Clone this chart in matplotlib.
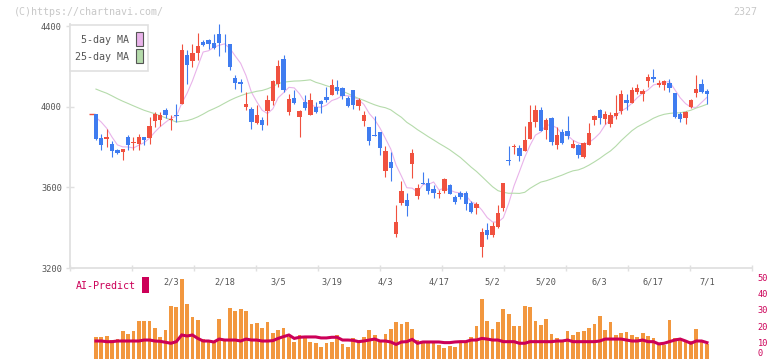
import numpy as np
import pandas as pd
import matplotlib
matplotlib.use('Agg')
import matplotlib.pyplot as plt
from matplotlib.patches import Rectangle

# daily candles (after the previous close)
opens = [3965, 3844, 3841, 3813, 3783, 3775, 3849, 3819, 3813, 3849,
         3846, 3929, 3935, 3982, 3932, 3960, 4015, 4254, 4226, 4266,
         4320, 4329, 4315, 4362, 4337, 4309, 4144, 4121, 3998, 3990,
         3919, 3935, 3978, 4028, 4114, 4238, 3973, 4045, 3948, 4023,
         3957, 3998, 4026, 4048, 4060, 4097, 4094, 4043, 4081, 4003,
         3929, 3899, 3858, 3874, 3681, 3725, 3367, 3522, 3535, 3714,
         3557, 3623, 3623, 3590, 3568, 3581, 3610, 3552, 3573, 3573,
         3524, 3497, 3304, 3386, 3362, 3403, 3499, 3734, 3800, 3797,
         3780, 3838, 3924, 3982, 3882, 3943, 3811, 3874, 3879, 3795,
         3808, 3750, 3808, 3932, 3982, 3940, 3916, 3953, 3978, 4031,
         4018, 4072, 4064, 4127, 4147, 4109, 4106, 4119, 4067, 3962,
         3943, 3998, 4067, 4111, 4076]
highs = [3965, 3866, 3891, 3829, 3792, 3792, 3858, 3849, 3866, 3849,
         3948, 3973, 3973, 3995, 3957, 4015, 4309, 4279, 4309, 4367,
         4329, 4337, 4359, 4408, 4362, 4309, 4155, 4139, 4072, 3998,
         4006, 3948, 4056, 4134, 4233, 4254, 4061, 4081, 3982, 4056,
         4067, 4023, 4031, 4097, 4139, 4130, 4097, 4051, 4081, 4045,
         3977, 3899, 3952, 3874, 3803, 3775, 3510, 3631, 3571, 3788,
         3618, 3676, 3648, 3610, 3585, 3648, 3618, 3560, 3580, 3580,
         3532, 3527, 3398, 3425, 3428, 3510, 3623, 3803, 3816, 3808,
         3902, 4006, 4006, 3998, 3942, 3948, 3899, 3891, 3952, 3836,
         3813, 3824, 3919, 3957, 3990, 3978, 3973, 4056, 4084, 4064,
         4097, 4111, 4089, 4160, 4188, 4134, 4134, 4135, 4067, 3973,
         3978, 4040, 4155, 4139, 4089]
lows = [3833, 3783, 3800, 3750, 3767, 3734, 3787, 3783, 3783, 3808,
        3816, 3899, 3902, 3945, 3882, 3924, 4011, 4114, 4196, 4233,
        4299, 4288, 4288, 4249, 4271, 4183, 4089, 4072, 3982, 3891,
        3916, 3886, 3907, 4006, 4097, 4072, 3957, 4015, 3849, 3982,
        3957, 3968, 3968, 4023, 4056, 4064, 4040, 3998, 3987, 3982,
        3904, 3808, 3853, 3758, 3651, 3631, 3353, 3510, 3457, 3646,
        3544, 3615, 3568, 3549, 3549, 3573, 3565, 3515, 3540, 3489,
        3472, 3469, 3254, 3342, 3353, 3400, 3482, 3712, 3763, 3730,
        3780, 3838, 3899, 3879, 3840, 3808, 3792, 3816, 3838, 3795,
        3745, 3745, 3808, 3907, 3916, 3916, 3899, 3940, 3965, 3982,
        4018, 4064, 4028, 4097, 4122, 4097, 4081, 4072, 3945, 3924,
        3912, 3995, 4048, 4069, 4015]
closes = [3841, 3811, 3849, 3780, 3772, 3792, 3808, 3824, 3849, 3836,
          3902, 3962, 3957, 3957, 3937, 3952, 4279, 4205, 4266, 4299,
          4307, 4309, 4293, 4315, 4334, 4196, 4117, 4114, 4011, 3924,
          3957, 3907, 4031, 4127, 4200, 4081, 4040, 4018, 3978, 3993,
          4031, 3973, 4011, 4031, 4106, 4077, 4053, 4003, 4006, 4035,
          3957, 3829, 3853, 3795, 3780, 3695, 3428, 3580, 3507, 3770,
          3596, 3615, 3581, 3571, 3571, 3643, 3568, 3527, 3552, 3515,
          3477, 3515, 3378, 3365, 3406, 3474, 3623, 3731, 3803, 3755,
          3833, 3922, 3982, 3879, 3932, 3824, 3858, 3819, 3854, 3813,
          3758, 3821, 3869, 3952, 3943, 3962, 3957, 3970, 4061, 4018,
          4081, 4094, 4076, 4147, 4139, 4117, 4127, 4092, 3948, 3937,
          3973, 4035, 4089, 4072, 4064]

prev_close = 3965
# closes before the shown window (only used for the moving averages)
prior_closes = [4080, 4095, 4110, 4120, 4105, 4090, 4115, 4130, 4110, 4115,
                4180, 4200, 4215, 4210, 4195, 4194, 4120, 4075, 4025, 3964,
                3930, 4000, 4000]

volume = [13.0, 13.0, 14.0, 11.6, 12.2, 17.1, 15.2, 16.7, 23.3, 23.3,
          23.3, 19.1, 13.5, 17.3, 32.5, 31.5, 49.2, 33.9, 25.9, 23.8,
          12.2, 11.0, 10.8, 24.4, 11.0, 31.2, 29.6, 30.7, 29.4, 21.4,
          22.2, 19.0, 22.8, 16.0, 17.3, 19.0, 13.1, 10.4, 14.5, 13.1,
          10.4, 9.4, 7.3, 9.8, 10.4, 14.5, 9.0, 7.3, 12.4, 10.4,
          13.1, 17.6, 14.5, 10.8, 15.1, 18.2, 22.5, 21.3, 22.5, 18.2,
          11.4, 10.4, 9.4, 10.0, 8.3, 6.7, 7.7, 6.9, 9.4, 10.4,
          13.1, 20.1, 36.8, 23.2, 18.2, 22.5, 30.5, 27.6, 20.1, 20.1,
          32.5, 31.9, 23.2, 20.7, 24.4, 15.1, 12.7, 11.4, 17.0, 14.5,
          16.6, 17.0, 18.9, 21.3, 26.2, 17.6, 22.5, 14.5, 15.7, 16.4,
          14.5, 13.3, 15.7, 13.9, 12.7, 9.0, 8.3, 23.8, 12.7, 11.4,
          10.8, 10.8, 18.2, 10.8, 9.0]
ai_predict = [10.8, 10.8, 10.4, 10.4, 10.8, 10.8, 10.8, 10.8, 10.8, 11.4,
              11.4, 10.8, 10.6, 10.0, 9.4, 10.4, 14.5, 13.9, 14.5, 12.4,
              10.8, 10.8, 10.2, 12.0, 11.4, 11.4, 11.4, 10.8, 12.0, 11.4,
              11.4, 10.8, 10.8, 11.0, 12.4, 13.5, 14.5, 12.4, 13.1, 13.3,
              13.3, 13.3, 12.7, 12.7, 13.1, 13.1, 11.4, 11.4, 11.2, 10.4,
              10.8, 11.4, 12.0, 10.8, 10.8, 10.2, 8.7, 10.2, 10.4, 11.8,
              9.4, 10.2, 10.2, 10.2, 10.2, 9.8, 9.8, 10.2, 10.4, 10.4,
              11.4, 11.4, 12.4, 12.0, 11.4, 11.4, 10.4, 10.4, 10.4, 9.4,
              9.4, 10.4, 10.4, 10.4, 10.4, 10.4, 10.8, 10.8, 11.4, 10.4,
              10.4, 10.4, 10.4, 10.4, 10.8, 12.0, 12.0, 12.0, 12.0, 11.4,
              10.8, 10.8, 11.4, 10.4, 10.4, 9.0, 9.4, 10.4, 11.4, 12.0,
              10.8, 9.4, 10.8, 10.8, 9.8]

date_labels = ['2/3', '2/18', '3/5', '3/19', '4/3', '4/17', '5/2', '5/20', '6/3', '6/17', '7/1']
date_index = [15, 25, 35, 45, 55, 65, 75, 85, 95, 105, 115]

UP = '#f0513f'
DOWN = '#3f7cf0'
VOL = '#f2973e'
AI = '#cc0058'
MA5_C = '#e9b3ea'
MA25_C = '#b5dbab'
GRID = '#e0e0e0'
TXT = '#555555'
MONO = 'DejaVu Sans Mono'

W, H = 772, 361


def fpos(x, y):
    # pixel position -> figure fraction
    return x / W, 1 - y / H


# moving averages
all_closes = pd.Series(prior_closes + [prev_close] + closes)
ma5 = all_closes.rolling(5).mean().iloc[-len(closes):].values
ma25 = all_closes.rolling(25).mean().iloc[-len(closes):].values
x = np.arange(1, len(closes) + 1)

fig = plt.figure(figsize=(W / 100, H / 100), dpi=100)

# price panel
ax1 = fig.add_axes([70 / W, (H - 268) / H, 682 / W, 245 / H])
xmin, xmax = -3.84, 123.4
ax1.set_xlim(xmin, xmax)
ax1.set_ylim(3200, 4415)

ax1.hlines(prev_close, -0.3, 0.8, color=UP, lw=1)
for i in range(len(closes)):
    o, h, l, c = opens[i], highs[i], lows[i], closes[i]
    col = UP if c >= o else DOWN
    ax1.vlines(x[i], l, h, color=col, lw=0.8, zorder=3)
    ax1.bar(x[i], max(abs(c - o), 4), bottom=min(o, c), width=0.82,
            color=col, lw=0, zorder=3)

ax1.plot(x, ma5, color=MA5_C, lw=0.8, zorder=2)
ax1.plot(x, ma25, color=MA25_C, lw=0.8, zorder=2)

for s in ['top', 'right']:
    ax1.spines[s].set_visible(False)
for s in ['left', 'bottom']:
    ax1.spines[s].set_color(GRID)
    ax1.spines[s].set_linewidth(1.3)
ax1.spines['left'].set_bounds(3200, 4408)

ax1.set_yticks([3200, 3600, 4000, 4400])
ax1.set_xticks(np.linspace(xmin, xmax, 12))
ax1.set_xticklabels([])
ax1.tick_params(axis='y', direction='inout', length=5.5, width=1, color=GRID,
                labelsize=6.2, labelcolor=TXT, pad=3)
ax1.tick_params(axis='x', direction='inout', length=5, width=1, color=GRID)
for t in ax1.get_yticklabels():
    t.set_fontfamily(MONO)

# volume panel
ax2 = fig.add_axes([70 / W, 2.5 / H, 682 / W, 81 / H])
ax2.set_xlim(xmin, xmax)
ax2.set_ylim(0, 50)
ax2.bar(x, volume, width=0.7, color=VOL, lw=0, clip_on=False)
ax2.plot(x, ai_predict, color=AI, lw=2.2, solid_joinstyle='miter', clip_on=False)
for s in ax2.spines.values():
    s.set_visible(False)
ax2.set_xticks([])
ax2.yaxis.tick_right()
ax2.set_yticks([0, 10, 20, 30, 40, 50])
ax2.tick_params(axis='y', length=0, labelsize=6.2, labelcolor=AI, pad=4)
for t in ax2.get_yticklabels():
    t.set_fontfamily(MONO)
# keep the "0" label inside the picture
ax2.get_yticklabels()[0].set_va('bottom')
ax2.patch.set_alpha(0)

for lab, idx in zip(date_labels, date_index):
    ax2.text(idx, 47.2, lab, ha='center', va='center', fontsize=6.2,
             color=TXT, family=MONO, clip_on=False)

# AI-Predict label
fig.text(*fpos(76, 286), 'AI-Predict', ha='left', va='center', fontsize=7.2,
         color=AI, family=MONO)
fig.patches.append(Rectangle(fpos(142, 293), 7 / W, 16 / H, transform=fig.transFigure,
                             color=AI, lw=0))

# legend box
fig.patches.append(Rectangle(fpos(70, 71), 78 / W, 46 / H, transform=fig.transFigure,
                             facecolor='white', edgecolor=GRID, lw=1.2, zorder=5))
fig.text(*fpos(129, 40), '5-day MA', ha='right', va='center', fontsize=7.2,
         color=TXT, family=MONO, zorder=6)
fig.text(*fpos(129, 57), '25-day MA', ha='right', va='center', fontsize=7.2,
         color=TXT, family=MONO, zorder=6)
fig.patches.append(Rectangle(fpos(136, 46), 7 / W, 14 / H, transform=fig.transFigure,
                             facecolor=MA5_C, edgecolor='#555555', lw=0.8, zorder=6))
fig.patches.append(Rectangle(fpos(136, 63), 7 / W, 14 / H, transform=fig.transFigure,
                             facecolor=MA25_C, edgecolor='#555555', lw=0.8, zorder=6))

# watermark and code
fig.text(*fpos(14, 12), '(C)https://chartnavi.com/', ha='left', va='center',
         fontsize=7.2, color='#c8c8c8', family=MONO)
fig.text(*fpos(757, 12), '2327', ha='right', va='center', fontsize=7.2,
         color='#c8c8c8', family=MONO)

fig.savefig('out.png', dpi=100)
plt.close(fig)
